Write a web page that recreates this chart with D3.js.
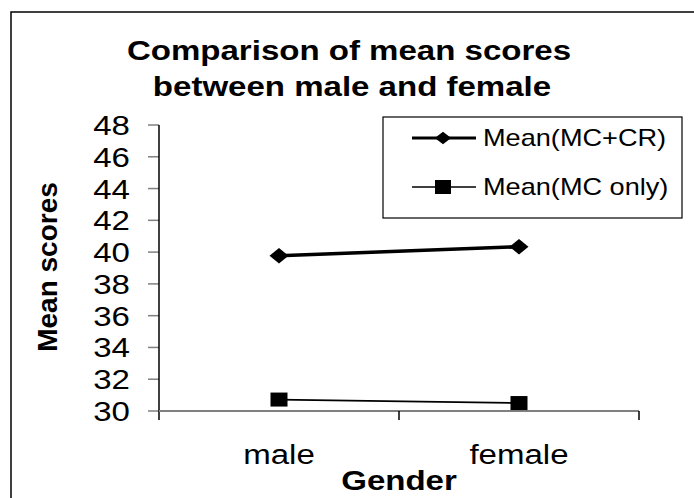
<!DOCTYPE html>
<html>
<head>
<meta charset="utf-8">
<script src="https://cdn.jsdelivr.net/npm/d3@7"></script>
<style>
  html, body { margin: 0; padding: 0; background: #fff; }
  svg { display: block; font-family: Arial, "Liberation Sans", sans-serif; }
</style>
</head>
<body>
<svg id="chart" width="694" height="498"></svg>
<script>
// Chart data
const categories = ["male", "female"];
const meanMcCr = [39.77, 40.34];
const meanMcOnly = [30.72, 30.5];
const yTicks = [30, 32, 34, 36, 38, 40, 42, 44, 46, 48];
const seriesNames = ["Mean(MC+CR)", "Mean(MC only)"];
const titleLines = ["Comparison of mean scores", "between male and female"];

const svg = d3.select("#chart");
const SX = 1.18; // horizontal stretch of the typeface

function label(g, x, y, txt, opts = {}) {
  return g.append("text")
    .attr("transform", `translate(${x},${y}) scale(${opts.sx ?? SX},1)`)
    .attr("text-anchor", opts.anchor || "start")
    .attr("font-size", opts.size || 28)
    .attr("font-weight", opts.bold ? "bold" : "normal")
    .attr("fill", "#000")
    .text(txt);
}

// Outer frame
svg.append("rect")
  .attr("x", 11).attr("y", 12)
  .attr("width", 720).attr("height", 520)
  .attr("fill", "#fff").attr("stroke", "#000").attr("stroke-width", 1.5);

// Scales
const x = d3.scaleBand().domain(categories).range([159, 639]);
const y = d3.scaleLinear().domain([30, 48]).range([411, 125]);

// Title
label(svg, 349, 60, titleLines[0], { anchor: "middle", bold: true });
label(svg, 352, 96, titleLines[1], { anchor: "middle", bold: true });

// Y axis: gray ticks, black line
const yAxis = svg.append("g");
yAxis.selectAll("line.tick").data(yTicks).join("line")
  .attr("class", "tick")
  .attr("x1", 148).attr("x2", 159)
  .attr("y1", d => y(d)).attr("y2", d => y(d))
  .attr("stroke", "#808080").attr("stroke-width", 1.5);
yAxis.selectAll("text").data(yTicks).join("text")
  .attr("transform", d => `translate(130,${y(d) + 10}) scale(${SX},1)`)
  .attr("text-anchor", "end")
  .attr("font-size", 28)
  .text(d => d);
yAxis.append("line")
  .attr("x1", 159).attr("x2", 159)
  .attr("y1", y(48)).attr("y2", 420)
  .attr("stroke", "#000").attr("stroke-width", 1.5);

// X axis: gray line, black ticks at band boundaries
const xAxis = svg.append("g");
xAxis.append("line")
  .attr("x1", 159).attr("x2", 639)
  .attr("y1", y(30)).attr("y2", y(30))
  .attr("stroke", "#808080").attr("stroke-width", 2);
const bounds = categories.map(c => x(c)).concat([x.range()[1]]);
xAxis.selectAll("line.tick").data(bounds.slice(1)).join("line")
  .attr("class", "tick")
  .attr("x1", d => d).attr("x2", d => d)
  .attr("y1", y(30)).attr("y2", 420)
  .attr("stroke", "#000").attr("stroke-width", 1.5);
xAxis.selectAll("text").data(categories).join("text")
  .attr("transform", d => `translate(${x(d) + x.bandwidth() / 2},464) scale(${SX},1)`)
  .attr("text-anchor", "middle")
  .attr("font-size", 28)
  .text(d => d);

// Axis titles
label(svg, 399, 490, "Gender", { anchor: "middle", bold: true });
svg.append("text")
  .attr("transform", "translate(57,267) rotate(-90)")
  .attr("text-anchor", "middle")
  .attr("font-size", 28)
  .attr("font-weight", "bold")
  .text("Mean scores");

const cx = d => x(d) + x.bandwidth() / 2;
const squareSym = d3.symbol().type(d3.symbolSquare);

// Series: Mean(MC+CR), thick line with diamond markers
const line = d3.line().x((d, i) => cx(categories[i])).y(d => y(d));
svg.append("path").datum(meanMcCr)
  .attr("d", line).attr("fill", "none")
  .attr("stroke", "#000").attr("stroke-width", 3.5);
svg.selectAll("path.dm").data(meanMcCr).join("path")
  .attr("class", "dm")
  .attr("d", squareSym.size(200)())
  .attr("transform", (d, i) => `translate(${cx(categories[i])},${y(d)}) scale(0.95,0.78) rotate(45)`)
  .attr("fill", "#000");

// Series: Mean(MC only), thin line with square markers
svg.append("path").datum(meanMcOnly)
  .attr("d", line).attr("fill", "none")
  .attr("stroke", "#000").attr("stroke-width", 1.8);
svg.selectAll("rect.sq").data(meanMcOnly).join("rect")
  .attr("class", "sq")
  .attr("x", (d, i) => cx(categories[i]) - 8.5)
  .attr("y", d => y(d) - 7)
  .attr("width", 17).attr("height", 14)
  .attr("fill", "#000");

// Legend
const legend = svg.append("g");
legend.append("rect")
  .attr("x", 383).attr("y", 117).attr("width", 299).attr("height", 101)
  .attr("fill", "#fff").attr("stroke", "#000").attr("stroke-width", 1.2);
const rows = [138, 187];
legend.append("line").attr("x1", 412).attr("x2", 476).attr("y1", rows[0]).attr("y2", rows[0])
  .attr("stroke", "#000").attr("stroke-width", 3);
legend.append("path")
  .attr("d", d3.symbol().type(d3.symbolSquare).size(100)())
  .attr("transform", `translate(443,${rows[0]}) scale(1.15,0.9) rotate(45)`)
  .attr("fill", "#000");
legend.append("line").attr("x1", 412).attr("x2", 476).attr("y1", rows[1]).attr("y2", rows[1])
  .attr("stroke", "#000").attr("stroke-width", 1.5);
legend.append("rect").attr("x", 435).attr("y", rows[1] - 7).attr("width", 16).attr("height", 14)
  .attr("fill", "#000");
seriesNames.forEach((s, i) => label(legend, 483, rows[i] + 8, s, { size: 23 }));
</script>
</body>
</html>
